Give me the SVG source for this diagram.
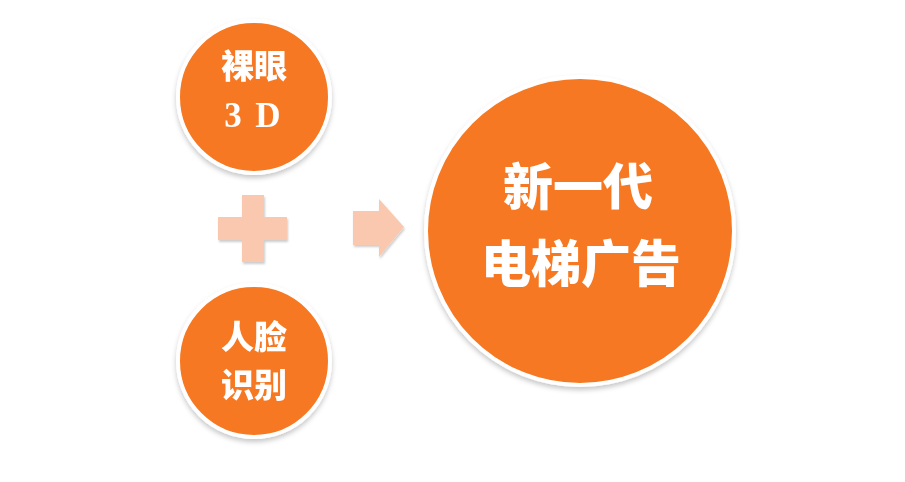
<svg xmlns="http://www.w3.org/2000/svg" width="905" height="482" viewBox="0 0 905 482">
<defs>
<filter id="sh" x="-20%" y="-20%" width="140%" height="150%">
<feDropShadow dx="0" dy="3" stdDeviation="2.5" flood-color="#000" flood-opacity="0.22"/>
</filter>
<filter id="sh2" x="-20%" y="-20%" width="140%" height="150%">
<feDropShadow dx="1" dy="2" stdDeviation="1.2" flood-color="#000" flood-opacity="0.2"/>
</filter>
</defs>
<style>
.c{fill:#F77820;stroke:#fff;stroke-width:4}
.t{fill:#fff;font-family:"Noto Sans CJK SC","Noto Sans",sans-serif;font-weight:900;text-anchor:middle}
.s{fill:#fff;font-family:"Liberation Serif","DejaVu Serif",serif;font-weight:700;text-anchor:middle}
.p{fill:#F9C8AE}
</style>
<rect width="905" height="482" fill="#fff"/>
<g id="node-3d" filter="url(#sh)">
<circle class="c" cx="254" cy="97" r="76"/>
<text class="t" x="254" y="78" font-size="33">裸眼</text>
<text class="s" y="127" font-size="35"><tspan x="233">3</tspan><tspan x="268">D</tspan></text>
</g>
<g id="node-face" filter="url(#sh)">
<circle class="c" cx="254" cy="361" r="76"/>
<text class="t" x="254" y="349" font-size="33">人脸</text>
<text class="t" x="254" y="397" font-size="33">识别</text>
</g>
<g id="node-ad" filter="url(#sh)">
<circle class="c" cx="580" cy="231" r="154"/>
<text class="t" x="578" y="205" font-size="50">新一代</text>
<text class="t" x="581" y="282" font-size="50">电梯广告</text>
</g>
<g id="connectors">
<path class="p" filter="url(#sh2)" d="M242 195H264V217H287V240H264V262H242V240H218V217H242Z"/>
<path class="p" filter="url(#sh2)" d="M353 211H379V199L404 227L379 257V245H353Z"/>
</g>
</svg>
